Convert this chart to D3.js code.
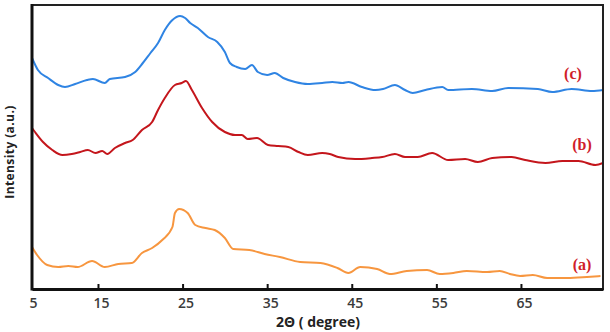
<!DOCTYPE html>
<html><head><meta charset="utf-8">
<script src="https://cdn.jsdelivr.net/npm/d3@7/dist/d3.min.js"></script>
<style>body{margin:0;background:#fff}svg{display:block}</style>
</head><body><svg id="c" width="610" height="332"></svg>
<script>
// 2θ (degree) / intensity (a.u.)
const thetaC = [7.2,7.9,9.1,10.3,11.1,12.3,13.7,14.4,15.8,16.4,18.2,19.4,20.3,21.2,22.1,22.9,23.8,24.7,25.3,25.9,26.8,28.0,29.1,30.0,30.6,31.4,32.4,33.2,33.9,35.0,35.9,36.9,38.3,39.8,41.5,42.7,43.9,44.6,46.2,47.8,48.7,50.1,51.3,52.2,53.7,55.7,56.4,59.2,61.6,63.5,67.0,68.7,71.0,73.4,74.7];
const intC   = [231,219,211,204,202,205,209,210,206,210,212,217,226,236,246,259,269,273,271,266,261,252,247,237,226,222,220,224,217,214,216,211,207,205,206,207,206,207,202,199,200,204,199,196,199,202,199,200,198,201,200,197,200,198,199];
const thetaB = [7.2,7.55,8.5,9.6,10.8,11.9,12.9,13.8,14.7,15.5,16.1,17.0,18.2,19.1,20.2,21.4,22.1,22.9,24.1,24.9,25.4,26.1,27.3,28.5,30.0,31.2,32.0,32.7,33.8,35.1,36.3,37.5,38.7,39.8,41.5,42.4,43.4,45.4,47.4,48.6,50.1,51.3,52.8,54.5,56.4,58.4,59.9,61.6,63.9,65.5,67.9,69.9,71.8,73.8,74.7];
const intB   = [161,157,147,139,134,135,137,139,136,138,135,141,146,149,159,167,179,191,204,206,208,199,181,167,157,154,154,150,151,144,143,142,137,134,136,135,132,130,131,132,135,132,132,136,129,130,127,131,132,129,126,128,128,124,126];
const thetaA = [7.2,7.8,9.0,10.3,11.5,12.6,14.3,15.8,17.4,19.0,20.2,21.4,22.6,23.8,24.1,24.6,25.6,26.5,27.7,28.8,30.0,31.0,32.9,34.7,36.5,38.9,41.3,43.3,44.6,46.0,48.0,49.5,51.5,53.9,55.4,57.0,58.6,61.0,62.5,63.7,64.9,66.4,68.1,70.5,72.8,74.4];
const intA   = [42,34,24,22,23,22,28,22,25,26,36,41,49,62,76,80,76,64,61,59,51,40,39,35,32,27,26,21,16,22,20,15,18,19,15,16,18,17,18,15,13,14,11,11,12,13];
const tickVals  = [7.2,15,25,35,45,55,65];
const tickNames = ["5","15","25","35","45","55","65"];
const seriesNames = ["(c)","(b)","(a)"];
const seriesColors = ["#2f84e3","#c4161c","#f7963f"];

const svg = d3.select("#c");
const L=32,R=603,T=5,B=289;
const x = d3.scaleLinear().domain([7.2,74.7]).range([L,R]);
const y = d3.scaleLinear().domain([0,284]).range([B,T]);

const series = [
  {th:thetaC, v:intC},
  {th:thetaB, v:intB},
  {th:thetaA, v:intA}
];
const line = d3.line().x(d=>x(d[0])).y(d=>y(d[1])).curve(d3.curveMonotoneX);
series.forEach((s,i)=>{
  const pts = s.th.map((t,j)=>[t,s.v[j]]);
  svg.append("path").datum(pts).attr("d",line)
    .attr("fill","none").attr("stroke",seriesColors[i])
    .attr("stroke-width",2).attr("stroke-linejoin","round");
});

// frame
svg.append("rect").attr("x",L).attr("y",T).attr("width",R-L).attr("height",B-T)
  .attr("fill","none").attr("stroke","#222").attr("stroke-width",2);

// bottom axis
const ax = svg.append("g").attr("transform",`translate(0,${B})`)
  .call(d3.axisBottom(x).tickValues(tickVals)
    .tickFormat((d,i)=>tickNames[i]).tickSizeInner(-5).tickSizeOuter(0).tickPadding(9));
ax.select(".domain").attr("stroke","#111").attr("stroke-width",3);
ax.selectAll(".tick line").attr("stroke","#111").attr("stroke-width",2)
  .attr("opacity",(d,i)=>i===0?0:1);
ax.selectAll(".tick text").attr("font-family","Open Sans, sans-serif")
  .attr("font-size",14).attr("font-weight",600).attr("fill","#3a3a3a")
  .attr("dx",(d,i)=>i===0?1:3);

// left axis line (thick)
svg.append("line").attr("x1",L).attr("x2",L).attr("y1",T-1).attr("y2",B+1.5)
  .attr("stroke","#111").attr("stroke-width",3);

// titles
svg.append("text").attr("x",318).attr("y",327).attr("text-anchor","middle")
  .attr("font-family","Open Sans, sans-serif").attr("font-size",14).attr("font-weight",700)
  .attr("fill","#222").text("2Θ ( degree)");
svg.append("text").attr("transform","translate(14,152) rotate(-90)").attr("text-anchor","middle")
  .attr("font-family","Open Sans, sans-serif").attr("font-size",12).attr("font-weight",700)
  .attr("letter-spacing",0.4).attr("fill","#222").text("Intensity (a.u.)");

// series labels
const labX=[573,582,582], labY=[79,150,270];
seriesNames.forEach((n,i)=>{
  svg.append("text").attr("x",labX[i]).attr("y",labY[i]).attr("text-anchor","middle")
    .attr("font-family","Liberation Serif, serif").attr("font-weight",700).attr("font-size",16)
    .attr("fill","#d01e2a").text(n);
});
</script></body></html>
